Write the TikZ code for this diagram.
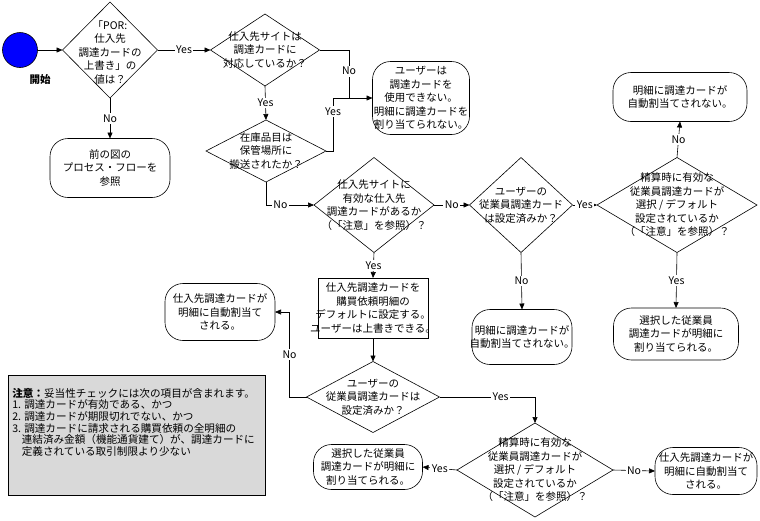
\documentclass[tikz,border=0pt]{standalone}
\usepackage{fontspec}
\setmainfont{Noto Sans CJK JP}
\usetikzlibrary{arrows.meta,shapes.geometric,calc}
\begin{document}
\begin{tikzpicture}[x=1pt,y=-1pt,
  line width=0.6pt,
  dia/.style={draw, diamond, inner sep=0pt, outer sep=0pt},
  term/.style={draw, rectangle, rounded corners=18pt, inner sep=0pt, outer sep=0pt},
  boxs/.style={draw, rectangle, inner sep=0pt, outer sep=0pt},
  txt/.style={align=center, font=\fontsize{10.5}{13.5}\selectfont, inner sep=0pt},
  lab/.style={fill=white, inner sep=1.5pt, font=\fontsize{10.5}{12}\selectfont},
  arr/.style={-{Triangle[length=6pt,width=5pt]}}
]
\useasboundingbox (0,0) rectangle (760,520);

% start
\node[draw, circle, fill=blue, minimum size=35pt, inner sep=0pt, outer sep=0pt] (start) at (20,50) {};
\node[font=\fontsize{10.5}{12}\selectfont\bfseries] (startlab) at (40,80) {開始};

% diamonds
\node[dia, minimum width=95pt, minimum height=96pt] (d1) at (110,50) {};
\node[txt] (d1t) at (110,52) {「POR:\\仕入先\\調達カードの\\上書き」の\\値は？};

\node[dia, minimum width=109pt, minimum height=72pt] (d2) at (265,50) {};
\node[txt] (d2t) at (265,50) {仕入先サイトは\\調達カードに\\対応しているか？};

\node[dia, minimum width=120pt, minimum height=62pt] (d3) at (266,151) {};
\node[txt] (d3t) at (266,151) {在庫品目は\\保管場所に\\搬送されたか？};

\node[dia, minimum width=120pt, minimum height=95pt] (d4) at (374,205) {};
\node[txt] (d4t) at (374,205) {仕入先サイトに\\有効な仕入先\\調達カードがあるか\\（「注意」を参照）？};

\node[dia, minimum width=103pt, minimum height=95pt] (d5) at (521,205) {};
\node[txt] (d5t) at (521,205) {ユーザーの\\従業員調達カード\\は設定済みか？};

\node[dia, minimum width=160pt, minimum height=95pt] (d6) at (677,205) {};
\node[txt] (d6t) at (677,205) {精算時に有効な\\従業員調達カードが\\選択 / デフォルト\\設定されているか\\（「注意」を参照）？};

\node[dia, minimum width=133pt, minimum height=71pt] (d7) at (373,397) {};
\node[txt] (d7t) at (373,397) {ユーザーの\\従業員調達カードは\\設定済みか？};

\node[dia, minimum width=156pt, minimum height=94pt] (d8) at (535,470) {};
\node[txt] (d8t) at (535,470) {精算時に有効な\\従業員調達カードが\\選択 / デフォルト\\設定されているか\\（「注意」を参照）？};

% terminators
\node[term, minimum width=97pt, minimum height=73pt] (t1) at (421,98) {};
\node[txt] (t1t) at (421,98) {ユーザーは\\調達カードを\\使用できない。\\明細に調達カードを\\割り当てられない。};

\node[term, minimum width=134pt, minimum height=49pt] (t2) at (680,97) {};
\node[txt] (t2t) at (680,97) {明細に調達カードが\\自動割当てされない。};

\node[term, minimum width=125pt, minimum height=52pt] (t3) at (676,334) {};
\node[txt] (t3t) at (676,334) {選択した従業員\\調達カードが明細に\\割り当てられる。};

\node[term, minimum width=100pt, minimum height=55pt] (t4) at (522,337) {};
\node[txt] (t4t) at (522,337) {明細に調達カードが\\自動割当てされない。};

\node[term, minimum width=110pt, minimum height=57pt] (t5) at (220,312) {};
\node[txt] (t5t) at (220,312) {仕入先調達カードが\\明細に自動割当て\\される。};

\node[term, minimum width=109pt, minimum height=45pt] (t6) at (368,467) {};
\node[txt] (t6t) at (368,467) {選択した従業員\\調達カードが明細に\\割り当てられる。};

\node[term, minimum width=102pt, minimum height=47pt] (t7) at (706,471) {};
\node[txt] (t7t) at (706,471) {仕入先調達カードが\\明細に自動割当て\\される。};

\node[term, minimum width=120pt, minimum height=59pt] (t8) at (110,168) {};
\node[txt] (t8t) at (110,168) {前の図の\\プロセス・フローを\\参照};

% process box
\node[boxs, minimum width=110pt, minimum height=60pt] (b1) at (373,308) {};
\node[txt] (b1t) at (373,308) {仕入先調達カードを\\購買依頼明細の\\デフォルトに設定する。\\ユーザーは上書きできる。};

% note
\node[boxs, fill=black!15, minimum width=257pt, minimum height=120pt] (note) at (136.5,435) {};
\node[anchor=north west, align=left, inner sep=0pt, font=\fontsize{10.6}{11.6}\selectfont] (notet) at (12,388)
 {{\bfseries 注意：}妥当性チェックには次の項目が含まれます。\\
  1. 調達カードが有効である、かつ\\
  2. 調達カードが期限切れでない、かつ\\
  3. 調達カードに請求される購買依頼の全明細の\\
  \hspace*{0.9em}連結済み金額（機能通貨建て）が、調達カードに\\
  \hspace*{0.9em}定義されている取引制限より少ない};

% junction coordinates
\coordinate (jn) at (349,98);
\coordinate (jy) at (333,98);

% connectors
\draw[arr] (start.east) -- (d1.west);
\draw[arr] (d1.east) -- node[lab] {Yes} (d2.west);
\draw (d2.east) -| node[lab, pos=0.72] {No} (jn);
\draw[arr] (jy) -- (t1.west);
\draw (d3.east) -| node[lab, pos=0.87] {Yes} (jy);
\draw[arr] (d2.south) -- node[lab] {Yes} (d3.north);
\draw[arr] (d3.south) |- node[lab, pos=0.65] {No} (d4.west);
\draw[arr] (d4.east) -- node[lab] {No} (d5.west);
\draw[arr] (d5.east) -- node[lab] {Yes} (d6.west);
\draw[arr] (d6.north) -- node[lab] {No} (t2.south);
\draw[arr] (d6.south) -- node[lab] {Yes} (t3.north);
\draw[arr] (d5.south) -- node[lab] {No} (t4.north);
\draw[arr] (d4.south) -- node[lab] {Yes} (b1.north);
\draw[arr] (b1.south) -- (d7.north);
\draw[arr] (d7.west) -- ++(-17,0) |- node[lab, pos=0.25] {No} (t5.east);
\draw[arr] (d7.east) -| node[lab, pos=0.32] {Yes} (d8.north);
\draw[arr] (d8.west) -- node[lab] {Yes} (t6.east);
\draw[arr] (d8.east) -- node[lab] {No} (t7.west);
\draw[arr] (d1.south) -- node[lab] {No} (t8.north);
\end{tikzpicture}
\end{document}
